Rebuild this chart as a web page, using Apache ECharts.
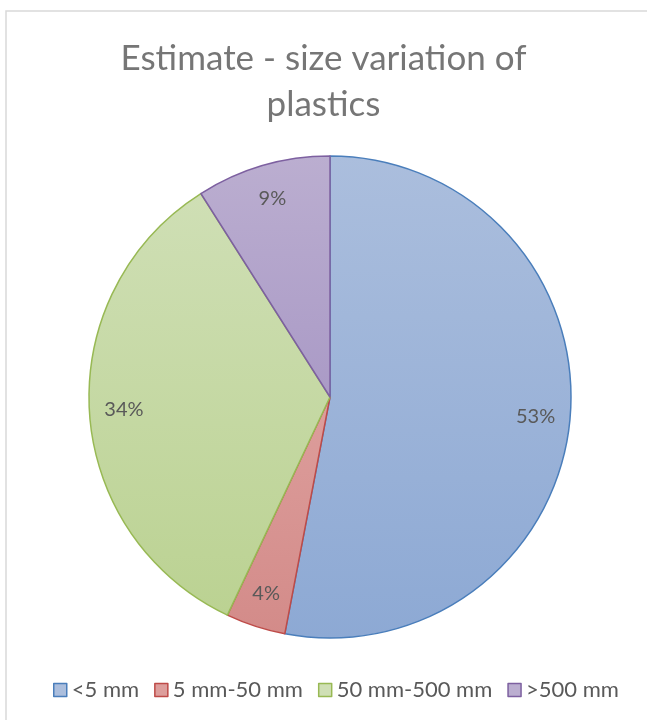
<!DOCTYPE html>
<html>
<head>
<meta charset="utf-8">
<script src="https://cdn.jsdelivr.net/npm/echarts@6/dist/echarts.min.js"></script>
<style>
html,body{margin:0;padding:0;background:#fff;}
#c{width:647px;height:720px;}
</style>
</head>
<body>
<div id="c"></div>
<script>
var titleText = 'Estimate - size variation of\nplastics';
var categories = ['<5 mm', '5 mm-50 mm', '50 mm-500 mm', '>500 mm'];
var values = [53, 4, 34, 9];
var fillTop = ['#abbedd', '#dd9e9c', '#cfdfb5', '#bbaed0'];
var fillBottom = ['#8da9d4', '#d38b89', '#bbd292', '#aa9ac6'];
var borders = ['#4a7ebb', '#be4b48', '#98b954', '#7d60a0'];

function grad(i) {
  return new echarts.graphic.LinearGradient(0, 0, 0, 1, [
    {offset: 0, color: fillTop[i]}, {offset: 1, color: fillBottom[i]}
  ]);
}

var chart = echarts.init(document.getElementById('c'), null, {renderer: 'canvas'});
var mainData = categories.map(function (c, i) {
  return {name: c, value: values[i], itemStyle: {color: grad(i), borderColor: borders[i], borderWidth: 1.5}};
});
var labelData = categories.map(function (c, i) {
  return {name: c, value: values[i]};
});
chart.setOption({
  animation: false,
  backgroundColor: '#ffffff',
  graphic: [{
    type: 'rect', shape: {x: 6, y: 11, width: 660, height: 730},
    style: {fill: 'none', stroke: '#d9d9d9', lineWidth: 1.5}, silent: true
  }],
  title: {
    text: titleText, left: 'center', top: 31,
    textStyle: {fontFamily: 'Lato', fontSize: 35, fontWeight: 'normal', color: '#767676', lineHeight: 46}
  },
  legend: {
    bottom: 14, left: 48, icon: 'rect', itemWidth: 13, itemHeight: 13, itemGap: 15,
    textStyle: {fontFamily: 'Lato', fontSize: 22, color: '#595959'},
    data: categories.map(function (c, i) {
      return {name: c, itemStyle: {color: fillTop[i], borderColor: borders[i], borderWidth: 1.5}};
    })
  },
  series: [{
    type: 'pie', center: [330, 397], radius: [0, 241], startAngle: 90, clockwise: true,
    label: {show: false}, labelLine: {show: false}, silent: true,
    data: mainData
  }, {
    type: 'pie', center: [330, 397], radius: [166, 241], startAngle: 90, clockwise: true,
    silent: true, legendHoverLink: false,
    itemStyle: {color: 'rgba(0,0,0,0)', borderWidth: 0},
    label: {show: true, position: 'inside', formatter: '{c}%', fontFamily: 'Lato', fontSize: 20, color: '#595959'},
    labelLine: {show: false},
    data: labelData
  }]
});
</script>
</body>
</html>
